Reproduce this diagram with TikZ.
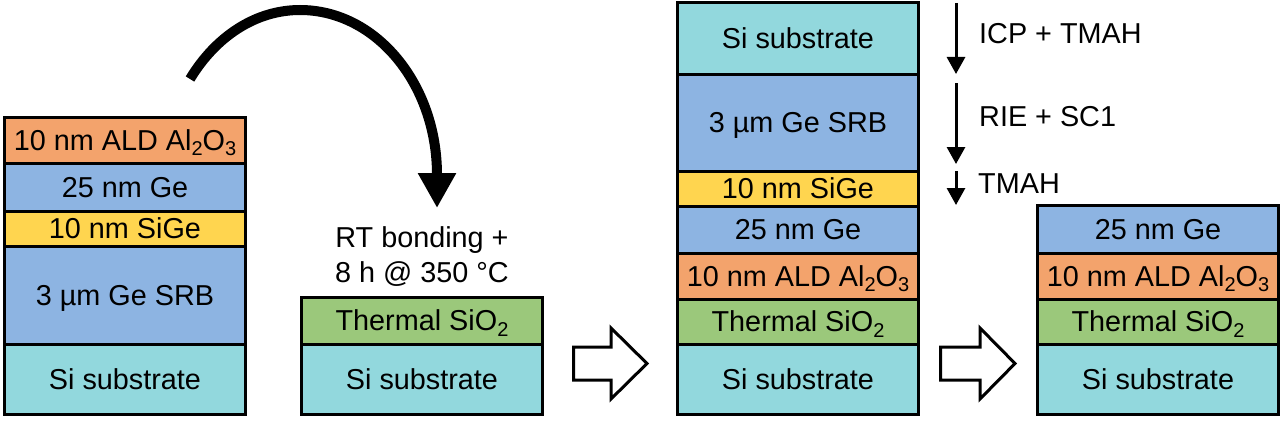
\documentclass[tikz,border=0pt]{standalone}
\usepackage{fontspec}
\setmainfont{Liberation Sans}
\usetikzlibrary{arrows.meta}
\definecolor{cOrange}{HTML}{F3A36C}
\definecolor{cBlue}{HTML}{8DB4E2}
\definecolor{cYellow}{HTML}{FFD54F}
\definecolor{cGreen}{HTML}{9BC87B}
\definecolor{cTeal}{HTML}{92D8DD}
\newcommand\lblfont{\fontsize{28.8}{34}\selectfont}
\newcommand\lsub[1]{\raisebox{-5.5pt}{\fontsize{20}{20}\selectfont #1}}
\tikzset{
  layer/.style={draw, line width=3pt, minimum width=241pt, inner sep=0pt,
    text height=20.5pt, text depth=0pt, font=\lblfont},
  txt/.style={inner sep=0pt, text height=20.5pt, text depth=0pt, font=\lblfont},
  bigarrow/.style={line width=10pt, -{Triangle[width=36pt,length=35pt]}},
  etcharrow/.style={line width=3pt, -{Triangle[width=18pt,length=17pt]}},
  blockarrow/.style={draw, line width=3pt, fill=white, line join=miter}
}
\begin{document}
\begin{tikzpicture}[x=1pt,y=-1pt]
\useasboundingbox (0,0) rectangle (1284,420);
% ---- stack A (donor wafer)
\node[layer, fill=cOrange, minimum height=46pt] (a1) at (125,140) {10 nm ALD Al\lsub{2}O\lsub{3}};
\node[layer, fill=cBlue,   minimum height=48pt] (a2) at (125,187) {25 nm Ge};
\node[layer, fill=cYellow, minimum height=35pt] (a3) at (125,228.5) {10 nm SiGe};
\node[layer, fill=cBlue,   minimum height=98pt] (a4) at (125,295) {3 µm Ge SRB};
\node[layer, fill=cTeal,   minimum height=70pt] (a5) at (125,379) {Si substrate};
% ---- stack B (handle wafer)
\node[layer, fill=cGreen, minimum height=47pt] (b1) at (422,320.5) {Thermal SiO\lsub{2}};
\node[layer, fill=cTeal,  minimum height=70pt] (b2) at (422,379) {Si substrate};
\node[txt] (bt1) at (422,237) {RT bonding +};
\node[txt] (bt2) at (422,272) {8 h @ 350 °C};
% ---- flip arrow
\coordinate (fs) at (190,79);
\coordinate (fe) at (437,208);
\draw[bigarrow] (fs) .. controls (216,36) and (256,10) .. (300,10)
  .. controls (376,10) and (437,84) .. (437,175) -- (fe);
% ---- stack C (bonded)
\node[layer, fill=cTeal,   minimum height=71pt] (c1) at (798,38.5) {Si substrate};
\node[layer, fill=cBlue,   minimum height=97pt] (c2) at (798,122.5) {3 µm Ge SRB};
\node[layer, fill=cYellow, minimum height=35pt] (c3) at (798,188.5) {10 nm SiGe};
\node[layer, fill=cBlue,   minimum height=47pt] (c4) at (798,229.5) {25 nm Ge};
\node[layer, fill=cOrange, minimum height=46pt] (c5) at (798,276) {10 nm ALD Al\lsub{2}O\lsub{3}};
\node[layer, fill=cGreen,  minimum height=45pt] (c6) at (798,321.5) {Thermal SiO\lsub{2}};
\node[layer, fill=cTeal,   minimum height=70pt] (c7) at (798,379) {Si substrate};
% ---- etch arrows
\coordinate (e1s) at (956,3);   \coordinate (e1e) at (956,74);
\coordinate (e2s) at (956,83);  \coordinate (e2e) at (956,164);
\coordinate (e3s) at (956,171); \coordinate (e3e) at (956,205);
\draw[etcharrow] (e1s) -- (e1e);
\draw[etcharrow] (e2s) -- (e2e);
\draw[etcharrow] (e3s) -- (e3e);
\node[txt, anchor=west] (l1) at (979,33) {ICP + TMAH};
\node[txt, anchor=west] (l2) at (979,116) {RIE + SC1};
\node[txt, anchor=west] (l3) at (978,183) {TMAH};
% ---- stack D (final)
\node[layer, fill=cBlue,   minimum height=48pt] (d1) at (1158,229) {25 nm Ge};
\node[layer, fill=cOrange, minimum height=46pt] (d2) at (1158,276) {10 nm ALD Al\lsub{2}O\lsub{3}};
\node[layer, fill=cGreen,  minimum height=45pt] (d3) at (1158,321.5) {Thermal SiO\lsub{2}};
\node[layer, fill=cTeal,   minimum height=70pt] (d4) at (1158,379) {Si substrate};
% ---- block arrows
\draw[blockarrow] (573.5,347) -- (611,347) -- (611,328) -- (647,363.5) -- (611,399) -- (611,380) -- (573.5,380) -- cycle;
\draw[blockarrow] (940.5,347) -- (980,347) -- (980,328) -- (1015,363.5) -- (980,399) -- (980,380) -- (940.5,380) -- cycle;
\end{tikzpicture}
\end{document}
